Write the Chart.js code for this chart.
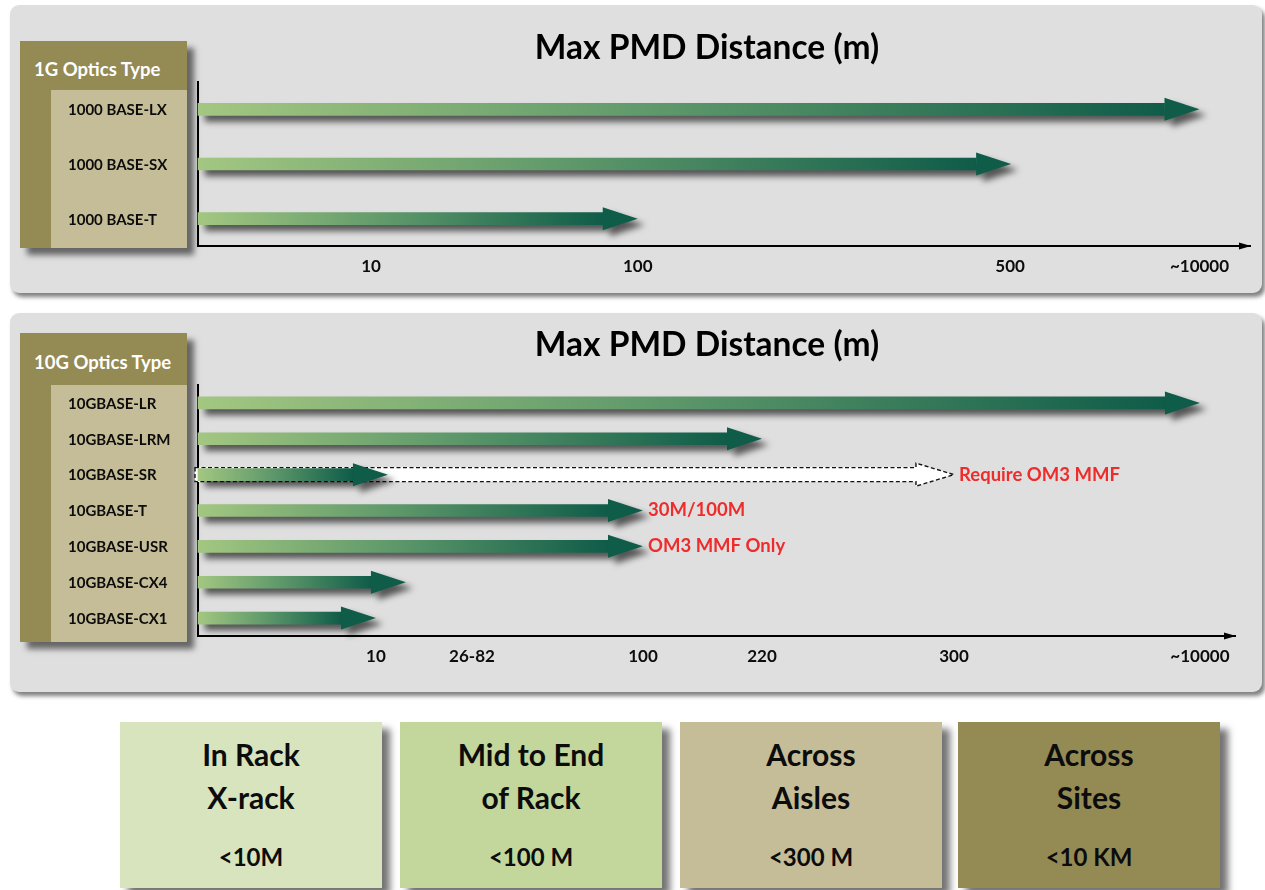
<!DOCTYPE html>
<html>
<head>
<meta charset="utf-8">
<title>Max PMD Distance</title>
<script src="https://cdn.jsdelivr.net/npm/chart.js@4.4.1/dist/chart.umd.min.js"></script>
<style>
  html, body { margin: 0; padding: 0; background: #ffffff; }
  #stage { position: relative; width: 1265px; height: 890px; overflow: hidden;
           font-family: Lato, "Open Sans", sans-serif; }
  .panel { position: absolute; left: 10px; width: 1252px; background: #dfdfdf;
           border-radius: 9px; box-shadow: 3px 4px 4px rgba(0,0,0,0.5); }
  .typebox { position: absolute; left: 20px; width: 167px; background: #948a54;
             box-shadow: 7px 7px 6px rgba(0,0,0,0.55); }
  .typebox .hdr { position: absolute; left: 14px; color: #ffffff; font-weight: 700;
                  font-size: 18.5px; line-height: 22px; white-space: nowrap; }
  .typebox .list { position: absolute; left: 31px; right: 0; bottom: 0; background: #c4bd97; }
  canvas.plot { position: absolute; left: 10px; }
  .zone { position: absolute; top: 722px; width: 262px; height: 166px; text-align: center;
          font-weight: 700; color: #0c0c0c; box-shadow: 8px 7px 7px rgba(0,0,0,0.55); }
  .zone .name { position: absolute; left: 0; right: 0; top: 11px; font-size: 30px; line-height: 43px; }
  .zone .limit { position: absolute; left: 0; right: 0; top: 118px; font-size: 24px; line-height: 34px; }
</style>
</head>
<body>
<div id="stage">
  <div class="panel" style="top:5px;height:288px"></div>
  <div class="typebox" style="top:41px;height:207px">
    <div class="hdr" style="top:17px">1G Optics Type</div>
    <div class="list" style="top:49px"></div>
  </div>
  <canvas id="chart1g" class="plot" width="1252" height="288" style="top:5px"></canvas>

  <div class="panel" style="top:313px;height:379px"></div>
  <div class="typebox" style="top:333px;height:309px">
    <div class="hdr" style="top:18px">10G Optics Type</div>
    <div class="list" style="top:52px"></div>
  </div>
  <canvas id="chart10g" class="plot" width="1252" height="379" style="top:313px"></canvas>
</div>

<script>
// ---- 1G optics: reach in metres ----
const opt1gTypes  = ['1000 BASE-LX', '1000 BASE-SX', '1000 BASE-T'];
const opt1gReach  = [10000, 550, 100];
const axis1gTicks  = [10, 100, 500, 10000];
const axis1gLabels = ['10', '100', '500', '~10000'];

// ---- 10G optics: reach in metres ----
const opt10gTypes = ['10GBASE-LR', '10GBASE-LRM', '10GBASE-SR', '10GBASE-T',
                     '10GBASE-USR', '10GBASE-CX4', '10GBASE-CX1'];
const opt10gReach    = [10000, 220, 12, 100, 100, 15, 10];
const opt10gNotes    = [null, null, null, '30M/100M', 'OM3 MMF Only', null, null];
const opt10gOm3Reach = [null, null, 300, null, null, null, null];
const opt10gOm3Notes = [null, null, 'Require OM3 MMF', null, null, null, null];
const axis10gTicks  = [10, 26, 100, 220, 300, 10000];
const axis10gLabels = ['10', '26-82', '100', '220', '300', '~10000'];

// ---- deployment zones ----
const zoneNames  = [['In Rack', 'X-rack'], ['Mid to End', 'of Rack'], ['Across', 'Aisles'], ['Across', 'Sites']];
const zoneLimits = ['<10M', '<100 M', '<300 M', '<10 KM'];

const FONT = 'Lato, "Open Sans", sans-serif';
const GREEN_END = '#0f5c49';
const NOTE_RED = '#ee2c2c';

// Zone boxes under the charts
const zoneColors = ['#d7e4bd', '#c3d69b', '#c4bd97', '#948a54'];
const zoneLeft = [120, 400, 680, 958];
const stage = document.getElementById('stage');
zoneNames.forEach((name, i) => {
  const box = document.createElement('div');
  box.className = 'zone';
  box.style.left = zoneLeft[i] + 'px';
  box.style.background = zoneColors[i];
  const n = document.createElement('div');
  n.className = 'name';
  n.innerHTML = name.join('<br>');
  const l = document.createElement('div');
  l.className = 'limit';
  l.textContent = zoneLimits[i];
  box.appendChild(n);
  box.appendChild(l);
  stage.appendChild(box);
});

// Schematic distance axis: piecewise linear between the marked distances
class SchematicScale extends Chart.LinearScale {
  buildTicks() {
    return this.options.marks.map(v => ({ value: v }));
  }
  _stops() {
    return [[0].concat(this.options.marks), [0].concat(this.options.spots)];
  }
  getPixelForValue(value) {
    const [vals, fr] = this._stops();
    let d;
    if (value == null || isNaN(value) || value <= vals[0]) {
      d = 0;
    } else if (value >= vals[vals.length - 1]) {
      d = fr[fr.length - 1];
    } else {
      let i = 1;
      while (value > vals[i]) i++;
      d = fr[i - 1] + (value - vals[i - 1]) / (vals[i] - vals[i - 1]) * (fr[i] - fr[i - 1]);
    }
    return this.getPixelForDecimal(d);
  }
  getValueForPixel(pixel) {
    const [vals, fr] = this._stops();
    const d = this.getDecimalForPixel(pixel);
    for (let i = 1; i < fr.length; i++) {
      if (d <= fr[i]) {
        return vals[i - 1] + (d - fr[i - 1]) / (fr[i] - fr[i - 1]) * (vals[i] - vals[i - 1]);
      }
    }
    return vals[vals.length - 1];
  }
}
SchematicScale.id = 'schematic';
SchematicScale.defaults = { ticks: { callback: v => v } };
Chart.register(SchematicScale);

// Each arrow shaft fades from light green to dark teal along its own length
function shaftGradient(context) {
  const chart = context.chart;
  const xs = chart.scales.x;
  if (!xs || context.raw == null) return GREEN_END;
  const x0 = xs.getPixelForValue(0);
  const x1 = xs.getPixelForValue(context.raw) - 35;
  if (!isFinite(x0) || !isFinite(x1) || x1 <= x0) return GREEN_END;
  const g = chart.ctx.createLinearGradient(x0, 0, x1, 0);
  g.addColorStop(0, '#a3c781');
  g.addColorStop(0.5, '#5b9669');
  g.addColorStop(1, GREEN_END);
  return g;
}

// Turns every bar into an arrow whose tip sits at the bar's value
const arrowHeads = {
  id: 'arrowHeads',
  beforeDatasetDraw(chart, args) {
    const ds = chart.data.datasets[args.index];
    const ctx = chart.ctx;
    const len = ds.outline ? 38 : 35;
    ctx.save();
    if (!ds.outline) {
      ctx.shadowColor = 'rgba(0,0,0,0.62)';
      ctx.shadowBlur = 6;
      ctx.shadowOffsetX = 7;
      ctx.shadowOffsetY = 6;
    }
    args.meta.data.forEach((el, i) => {
      if (ds.data[i] == null) return;
      el.$tip = el.x;
      el.x = el.x - len;
    });
  },
  afterDatasetDraw(chart, args) {
    const ds = chart.data.datasets[args.index];
    const ctx = chart.ctx;
    const len = ds.outline ? 38 : 35;
    const half = 11.5;
    args.meta.data.forEach((el, i) => {
      if (ds.data[i] == null) return;
      const tip = el.$tip;
      el.x = tip;
      const y = el.y;
      const b = tip - len;
      if (ds.outline) {
        const h = el.height / 2;
        ctx.beginPath();
        ctx.moveTo(el.base - 3, y - h);
        ctx.lineTo(b, y - h);
        ctx.lineTo(b, y - half);
        ctx.lineTo(tip, y);
        ctx.lineTo(b, y + half);
        ctx.lineTo(b, y + h);
        ctx.lineTo(el.base - 3, y + h);
        ctx.closePath();
        ctx.fillStyle = '#ffffff';
        ctx.fill();
        ctx.setLineDash([4, 2.5]);
        ctx.lineWidth = 1.4;
        ctx.strokeStyle = '#111111';
        ctx.stroke();
        ctx.setLineDash([]);
      } else {
        ctx.beginPath();
        ctx.moveTo(b, y - half);
        ctx.lineTo(tip, y);
        ctx.lineTo(b, y + half);
        ctx.closePath();
        ctx.fillStyle = GREEN_END;
        ctx.fill();
      }
    });
    ctx.restore();

    if (ds.notes) {
      ctx.save();
      ctx.font = 'bold 18.5px ' + FONT;
      ctx.fillStyle = NOTE_RED;
      ctx.textAlign = 'left';
      ctx.textBaseline = 'middle';
      args.meta.data.forEach((el, i) => {
        const note = ds.notes[i];
        if (note && ds.data[i] != null) ctx.fillText(note, el.x + 5, el.y);
      });
      ctx.restore();
    }
  }
};

// Panel heading, optic-type labels and the arrow on the distance axis
const panelText = {
  id: 'panelText',
  afterDraw(chart, args, opts) {
    const ctx = chart.ctx;
    const ys = chart.scales.y;
    const area = chart.chartArea;
    ctx.save();
    ctx.fillStyle = '#000000';
    ctx.font = 'bold 33.5px ' + FONT;
    ctx.textAlign = 'center';
    ctx.textBaseline = 'middle';
    ctx.fillText(opts.title, opts.titleX, opts.titleY);

    ctx.font = 'bold 15px ' + FONT;
    ctx.textAlign = 'left';
    ctx.fillStyle = '#0c0c0c';
    chart.data.labels.forEach((lab, i) => {
      ctx.fillText(lab, opts.labelX, ys.getPixelForValue(i) + 1);
    });

    const yb = area.bottom;
    ctx.beginPath();
    ctx.moveTo(area.right - 11, yb - 3.5);
    ctx.lineTo(area.right + 1, yb);
    ctx.lineTo(area.right - 11, yb + 3.5);
    ctx.closePath();
    ctx.fillStyle = '#000000';
    ctx.fill();
    ctx.restore();
  }
};

function distanceAxis(marks, labels, spots) {
  return {
    type: 'schematic',
    min: 0,
    max: 10000,
    marks: marks,
    spots: spots,
    grid: { display: false, drawTicks: false },
    border: { display: true, color: '#000000', width: 2 },
    ticks: {
      autoSkip: false, maxRotation: 0, minRotation: 0, padding: 10,
      color: '#0c0c0c',
      font: { family: FONT, weight: 'bold', size: 17 },
      callback: (v, i) => labels[i]
    },
    afterFit: s => { s.height = 40; }
  };
}

const typeAxis = {
  type: 'category',
  grid: { display: false, drawTicks: false },
  border: { display: true, color: '#000000', width: 2 },
  ticks: { display: false },
  afterFit: s => { s.width = 10; }
};

function baseOptions(padding, textOpts) {
  return {
    indexAxis: 'y',
    responsive: false,
    animation: false,
    events: [],
    layout: { padding: padding },
    plugins: {
      legend: { display: false },
      tooltip: { enabled: false },
      title: { display: false },
      panelText: textOpts
    }
  };
}

// 1G chart
const opts1g = baseOptions({ left: 178, right: 12, top: 77, bottom: 7 },
  { title: 'Max PMD Distance (m)', titleX: 697, titleY: 43, labelX: 58 });
opts1g.scales = {
  x: distanceAxis(axis1gTicks, axis1gLabels, [0.1645, 0.418, 0.772, 0.952]),
  y: Object.assign({}, typeAxis)
};
new Chart(document.getElementById('chart1g'), {
  type: 'bar',
  data: {
    labels: opt1gTypes,
    datasets: [{
      data: opt1gReach,
      backgroundColor: shaftGradient,
      borderWidth: 0,
      barThickness: 12,
      clip: false
    }]
  },
  options: opts1g,
  plugins: [arrowHeads, panelText]
});

// 10G chart
const opts10g = baseOptions({ left: 178, right: 27, top: 72, bottom: 16 },
  { title: 'Max PMD Distance (m)', titleX: 697, titleY: 32, labelX: 58 });
opts10g.scales = {
  x: distanceAxis(axis10gTicks, axis10gLabels, [0.1716, 0.2642, 0.4291, 0.5439, 0.729, 0.9662]),
  y: Object.assign({}, typeAxis)
};
new Chart(document.getElementById('chart10g'), {
  type: 'bar',
  data: {
    labels: opt10gTypes,
    datasets: [
      {
        data: opt10gReach,
        notes: opt10gNotes,
        backgroundColor: shaftGradient,
        borderWidth: 0,
        barThickness: 12,
        grouped: false,
        order: 1,
        clip: false
      },
      {
        data: opt10gOm3Reach,
        notes: opt10gOm3Notes,
        outline: true,
        backgroundColor: '#ffffff',
        borderWidth: 0,
        barThickness: 14,
        grouped: false,
        order: 2,
        clip: false
      }
    ]
  },
  options: opts10g,
  plugins: [arrowHeads, panelText]
});
</script>
</body>
</html>
